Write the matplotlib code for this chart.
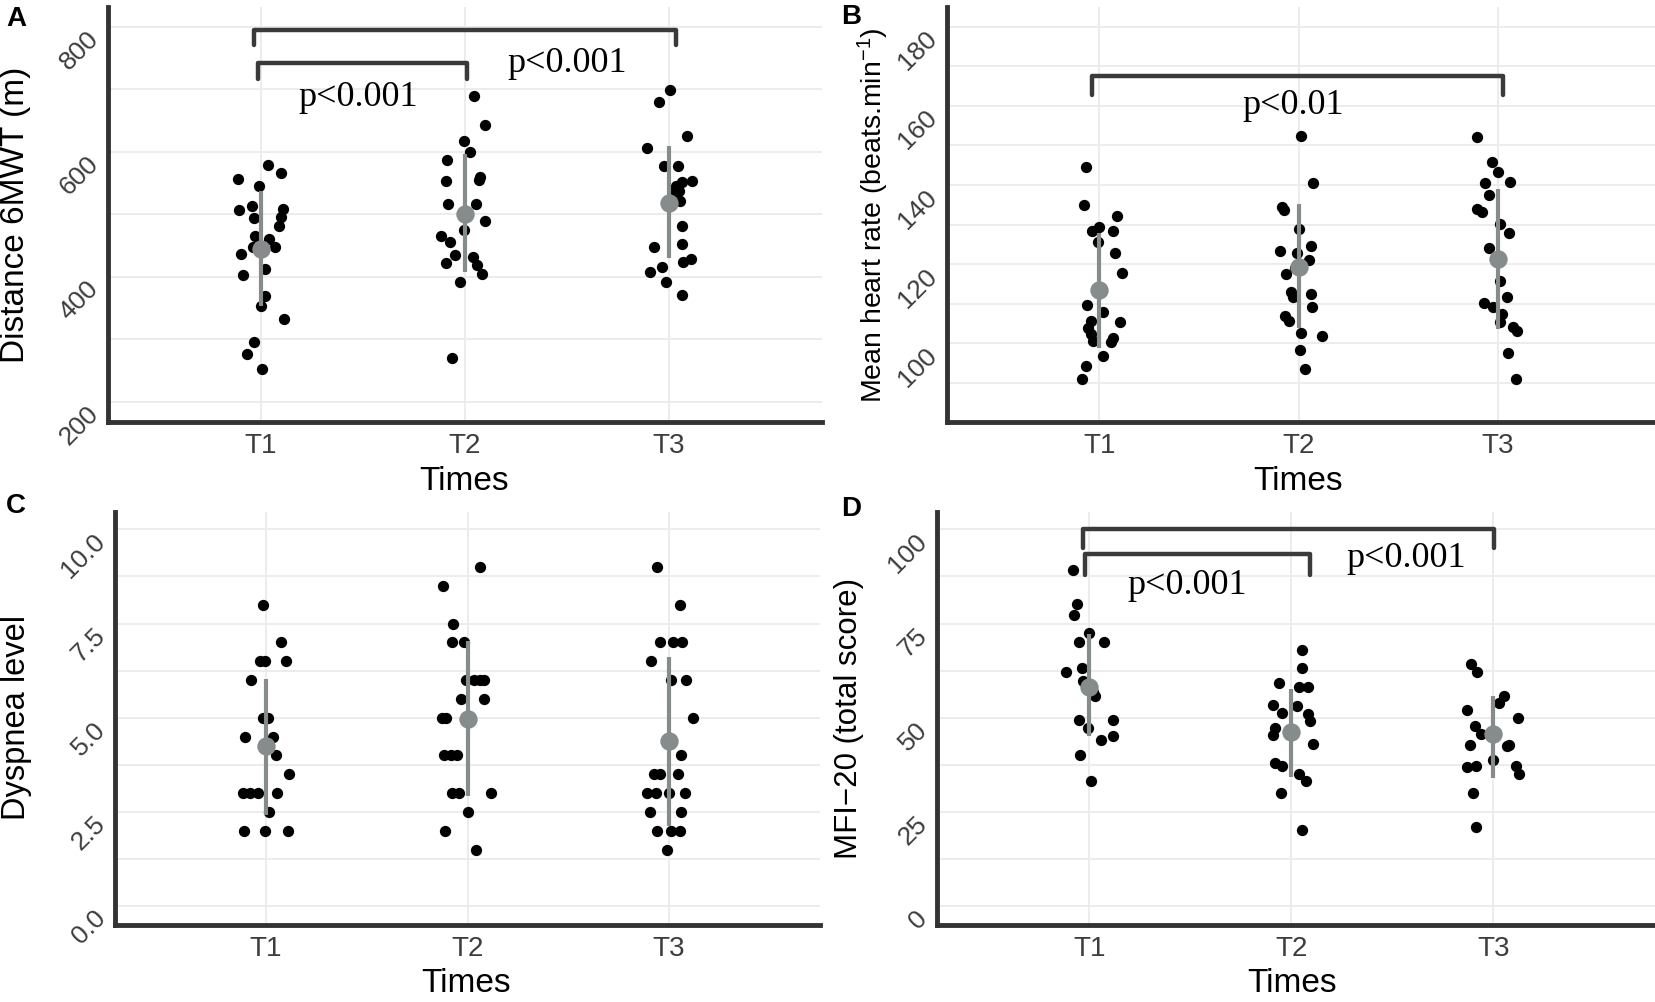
import numpy as np
import matplotlib.pyplot as plt
from matplotlib import font_manager
from matplotlib.transforms import ScaledTranslation

plt.rcParams['font.family'] = ['Liberation Sans', 'DejaVu Sans']
plt.rcParams['mathtext.fontset'] = 'custom'
plt.rcParams['mathtext.rm'] = 'Liberation Sans'
plt.rcParams['mathtext.it'] = 'Liberation Sans:italic'

installed = {f.name for f in font_manager.fontManager.ttflist}
TICKFONT = 'Liberation Sans Narrow' if 'Liberation Sans Narrow' in installed else 'Liberation Sans'

times = ["T1", "T2", "T3"]

# ---- A: 6MWT distance (m), values and horizontal jitter
dist_t1 = [557, 579, 566, 545, 507, 513, 509, 494, 495, 481, 466, 461,
           448, 447, 436, 412, 403, 369, 353, 333, 295, 276, 253]
dist_t1_jit = [-0.114, 0.033, 0.098, -0.011, -0.106, -0.044, 0.106, -0.033, 0.098, 0.087, -0.028, 0.038,
               0.070, -0.041, -0.098, 0.021, -0.087, 0.021, 0.0, 0.114, -0.033, -0.070, 0.005]
dist_t2 = [690, 643, 618, 600, 587, 553, 560, 555, 517, 517, 490, 475,
           466, 456, 435, 431, 422, 419, 405, 391, 270]
dist_t2_jit = [0.046, 0.098, -0.003, 0.025, -0.090, -0.093, 0.074, 0.069, -0.082, 0.052, 0.098, -0.003,
               -0.118, -0.074, -0.049, 0.038, -0.095, 0.057, 0.085, -0.025, -0.065]
dist_t3 = [699, 680, 625, 606, 578, 578, 554, 551, 538, 522, 482, 453,
           448, 424, 428, 416, 408, 392, 371, 535, 545]
dist_t3_jit = [0.003, -0.049, 0.090, -0.106, -0.025, 0.046, 0.111, 0.065, 0.049, 0.052, 0.065, 0.062,
               -0.074, 0.069, 0.106, -0.036, -0.093, -0.016, 0.062, 0.025, 0.036]
dist_mean = [444, 501, 518]
dist_low = [354, 407, 430]
dist_high = [538, 596, 610]

# ---- B: mean heart rate
hr_t1 = [144.6, 134.9, 132.2, 129.4, 128.3, 128.3, 125.5, 122.9, 117.9, 109.7, 108.0,
         105.7, 105.4, 104.0, 102.3, 100.6, 101.3, 100.4, 96.8, 94.3, 90.9]
hr_t1_jit = [-0.067, -0.075, 0.087, 0.0, -0.039, 0.067, -0.005, 0.079, 0.112, -0.064, 0.020,
             -0.042, 0.104, -0.055, -0.044, -0.030, 0.067, 0.057, 0.017, -0.067, -0.089]
hr_t2 = [152.3, 140.5, 134.5, 133.6, 128.8, 123.4, 122.9, 124.6, 121.0, 117.5, 113.1,
         112.4, 111.6, 109.3, 106.9, 105.7, 102.7, 101.9, 98.3, 93.5, 119.0]
hr_t2_jit = [0.012, 0.072, -0.084, -0.075, 0.0, -0.092, -0.008, 0.064, 0.055, -0.062, -0.039,
             0.062, -0.028, 0.067, -0.067, -0.050, 0.012, 0.117, 0.008, 0.034, -0.017]
hr_t3 = [152.2, 145.9, 143.4, 140.9, 140.5, 137.5, 133.9, 133.1, 130.1, 128.0, 124.2,
         115.8, 111.7, 110.1, 109.1, 107.5, 105.3, 104.2, 103.2, 97.5, 91.0]
hr_t3_jit = [-0.104, -0.028, 0.0, 0.060, -0.062, -0.045, -0.104, -0.079, 0.010, 0.055, -0.045,
             0.013, 0.047, -0.070, -0.023, 0.022, 0.010, 0.077, 0.097, 0.050, 0.094]
hr_mean = [113.4, 119.3, 121.4]
hr_low = [98.9, 104.0, 103.6]
hr_high = [128.0, 135.3, 139.0]

# ---- C: dyspnea level
dys_t1 = [8.0, 7.0, 6.5, 6.5, 6.5, 6.0, 5.0, 5.0, 4.5, 4.5, 4.0, 3.5, 3.0, 3.0, 3.0, 3.0, 2.5, 2.0, 2.0, 2.0]
dys_t1_jit = [-0.017, 0.075, -0.030, -0.003, 0.100, -0.075, -0.013, 0.008, -0.103, 0.033, 0.050, 0.113,
              -0.116, -0.080, -0.042, 0.053, 0.017, -0.108, -0.005, 0.108]
dys_t2 = [9.0, 8.5, 7.5, 7.0, 7.0, 6.0, 6.0, 6.0, 6.0, 5.5, 5.5, 5.0, 5.0, 4.0, 4.0, 4.0,
          3.0, 3.0, 3.0, 2.5, 2.0, 1.5]
dys_t2_jit = [0.063, -0.121, -0.070, -0.075, -0.017, -0.008, 0.033, 0.061, 0.083, -0.033, 0.083, -0.128,
              -0.108, -0.116, -0.083, -0.050, -0.075, -0.042, 0.116, 0.0, -0.113, 0.042]
dys_t3 = [9.0, 8.0, 7.0, 7.0, 7.0, 6.5, 6.0, 6.0, 5.0, 4.0, 3.5, 3.5, 3.5, 3.0, 3.0, 3.0,
          3.0, 2.5, 2.5, 2.0, 2.0, 2.0, 1.5]
dys_t3_jit = [-0.061, 0.055, -0.042, 0.022, 0.066, -0.091, 0.012, 0.083, 0.121, 0.058, -0.075, -0.042,
              0.045, -0.108, -0.066, 0.0, 0.078, -0.095, 0.058, -0.061, 0.012, 0.055, -0.008]
dys_mean = [4.25, 4.96, 4.38]
dys_low = [2.43, 2.92, 2.12]
dys_high = [6.02, 7.04, 6.61]

# ---- D: MFI-20 total score
mfi_t1 = [89.2, 80.3, 77.2, 72.4, 70.2, 70.2, 62.1, 63.3, 59.7, 55.8, 56.8, 49.4,
          47.3, 49.3, 44.2, 45.1, 40.1, 33.2]
mfi_t1_jit = [-0.083, -0.063, -0.076, 0.0, -0.050, 0.073, -0.116, -0.038, -0.030, 0.028, 0.017, -0.050,
              -0.005, 0.114, 0.056, 0.116, -0.046, 0.007]
mfi_t2 = [68.1, 63.1, 59.3, 58.1, 58.1, 53.3, 51.3, 53.1, 50.9, 49.1, 47.3, 45.3,
          43.1, 38.1, 37.2, 35.2, 33.2, 30.1, 20.2]
mfi_t2_jit = [0.053, 0.050, -0.061, 0.038, 0.083, -0.091, -0.045, 0.028, 0.083, 0.091, -0.083, -0.091,
              0.107, -0.083, -0.045, 0.038, 0.074, -0.054, 0.054]
mfi_t3 = [64.2, 62.1, 55.9, 54.0, 52.0, 50.0, 47.8, 45.6, 46.0, 42.5, 42.9, 42.7,
          37.2, 37.0, 38.7, 37.2, 35.2, 30.1, 21.1]
mfi_t3_jit = [-0.110, -0.081, 0.054, 0.029, -0.130, 0.120, -0.093, -0.061, 0.012, 0.066, 0.078, -0.118,
              -0.086, -0.130, -0.002, 0.110, 0.127, -0.100, -0.086]
mfi_mean = [58.2, 46.2, 45.6]
mfi_low = [45.1, 34.3, 34.1]
mfi_high = [72.1, 57.7, 55.9]

W, H = 1655, 1002
fig = plt.figure(figsize=(W / 100, H / 100), dpi=100)

GRID = '#EBEBEB'
SUMMARY = '#868b8b'
BRACKET = '#3a3a3a'
TICKCOL = '#3d3d3d'


def make_axes(x0, ytop, x1, ybot):
    return fig.add_axes([x0 / W, 1 - ybot / H, (x1 - x0) / W, (ybot - ytop) / H])


def panel(ax, groups, jits, means, lows, highs, xlim, ylim, yticks, ytlabels, yminor):
    for i, (vals, jit) in enumerate(zip(groups, jits)):
        ax.scatter(np.array(jit) + i + 1, vals, s=66, color='black', lw=0, zorder=3)
    xs = np.arange(1, len(times) + 1)
    ax.vlines(xs, lows, highs, color=SUMMARY, lw=3, zorder=4)
    ax.scatter(xs, means, s=175, color=SUMMARY, lw=0, zorder=5)

    ax.set_xlim(*xlim)
    ax.set_ylim(*ylim)
    ax.set_xticks(xs)
    ax.set_xticklabels(times, family=[TICKFONT, 'DejaVu Sans'])
    ax.set_yticks(yticks)
    ax.set_yticklabels([])
    ax.set_yticks(yminor, minor=True)
    ax.grid(True, which='major', color=GRID, lw=1.3, zorder=0)
    ax.grid(True, which='minor', axis='y', color=GRID, lw=1.3, zorder=0)
    ax.set_axisbelow(True)
    for s in ['top', 'right']:
        ax.spines[s].set_visible(False)
    for s in ['left', 'bottom']:
        ax.spines[s].set_linewidth(3.5)
        ax.spines[s].set_color('#333333')
    ax.tick_params(which='both', length=0)
    ax.tick_params(axis='x', labelsize=20, labelcolor=TICKCOL, pad=8)

    # rotated y tick labels: top-right of the rotated box sits at the gridline
    tr = ax.get_yaxis_transform() + ScaledTranslation(-5 / 100, 0, fig.dpi_scale_trans)
    for yv, lab in zip(yticks, ytlabels):
        ax.text(0, yv, lab, transform=tr, rotation=45, ha='right', va='top',
                fontsize=19, color=TICKCOL, family=[TICKFONT, 'DejaVu Sans'], clip_on=False)


def bracket(ax, x0, x1, top, tip):
    ax.plot([x0, x0, x1, x1], [tip, top, top, tip], color=BRACKET, lw=3.2,
            solid_joinstyle='round', solid_capstyle='round', zorder=6, clip_on=False)


def ptext(ax, x, y, s):
    ax.text(x, y, s, ha='center', va='center', fontsize=26,
            family=['Liberation Serif', 'DejaVu Serif'], color='black', zorder=7)


# A
axA = make_axes(108, 7, 822, 421.7)
panel(axA, [dist_t1, dist_t2, dist_t3], [dist_t1_jit, dist_t2_jit, dist_t3_jit],
      dist_mean, dist_low, dist_high, (0.25, 3.75), (168, 832),
      [200, 400, 600, 800], ['200', '400', '600', '800'], [300, 500, 700])
bracket(axA, 0.967, 3.036, 795, 771)
bracket(axA, 0.984, 2.008, 743, 717)
ptext(axA, 1.474, 687, 'p<0.001')
ptext(axA, 2.503, 742, 'p<0.001')

# B
axB = make_axes(947, 7, 1655, 421.7)
panel(axB, [hr_t1, hr_t2, hr_t3], [hr_t1_jit, hr_t2_jit, hr_t3_jit],
      hr_mean, hr_low, hr_high, (0.235, 3.79), (80.2, 185),
      [100, 120, 140, 160, 180], ['100', '120', '140', '160', '180'], [90, 110, 130, 150, 170])
bracket(axB, 0.961, 3.027, 167.6, 162.8)
ptext(axB, 1.975, 160, 'p<0.01')

# C
axC = make_axes(115, 512, 820, 925)
panel(axC, [dys_t1, dys_t2, dys_t3], [dys_t1_jit, dys_t2_jit, dys_t3_jit],
      dys_mean, dys_low, dys_high, (0.25, 3.75), (-0.5, 10.46),
      [0, 2.5, 5, 7.5, 10], ['0.0', '2.5', '5.0', '7.5', '10.0'], [1.25, 3.75, 6.25, 8.75])

# D
axD = make_axes(937, 512, 1655, 925)
panel(axD, [mfi_t1, mfi_t2, mfi_t3], [mfi_t1_jit, mfi_t2_jit, mfi_t3_jit],
      mfi_mean, mfi_low, mfi_high, (0.245, 3.8), (-5, 104.6),
      [0, 25, 50, 75, 100], ['0', '25', '50', '75', '100'], [12.5, 37.5, 62.5, 87.5])
bracket(axD, 0.97, 3.005, 100.2, 95.1)
bracket(axD, 0.979, 2.094, 93.5, 88)
ptext(axD, 1.485, 85, 'p<0.001')
ptext(axD, 2.566, 92.2, 'p<0.001')


# axis titles and panel letters (pixel positions)
def ftext(x, y, s, **kw):
    fig.text(x / W, 1 - y / H, s, ha='center', va='center', **kw)


ftext(16, 215, 'Distance 6MWT (m)', rotation=90, fontsize=24)
ftext(873, 215, r'Mean heart rate (beats.min$^{-1}$)', rotation=90, fontsize=20.5)
ftext(17, 718, 'Dyspnea level', rotation=90, fontsize=23.5)
ftext(849, 718, 'MFI\u221220 (total score)', rotation=90, fontsize=22.5)
ftext(464, 481, 'Times', fontsize=24)
ftext(1298, 481, 'Times', fontsize=24)
ftext(466, 984, 'Times', fontsize=24)
ftext(1292, 984, 'Times', fontsize=24)
ftext(16, 19, 'A', fontsize=20, fontweight='bold')
ftext(851, 17, 'B', fontsize=20, fontweight='bold')
ftext(16, 506, 'C', fontsize=20, fontweight='bold')
ftext(851, 509, 'D', fontsize=20, fontweight='bold')

fig.savefig('out.png', dpi=100, facecolor='white')
